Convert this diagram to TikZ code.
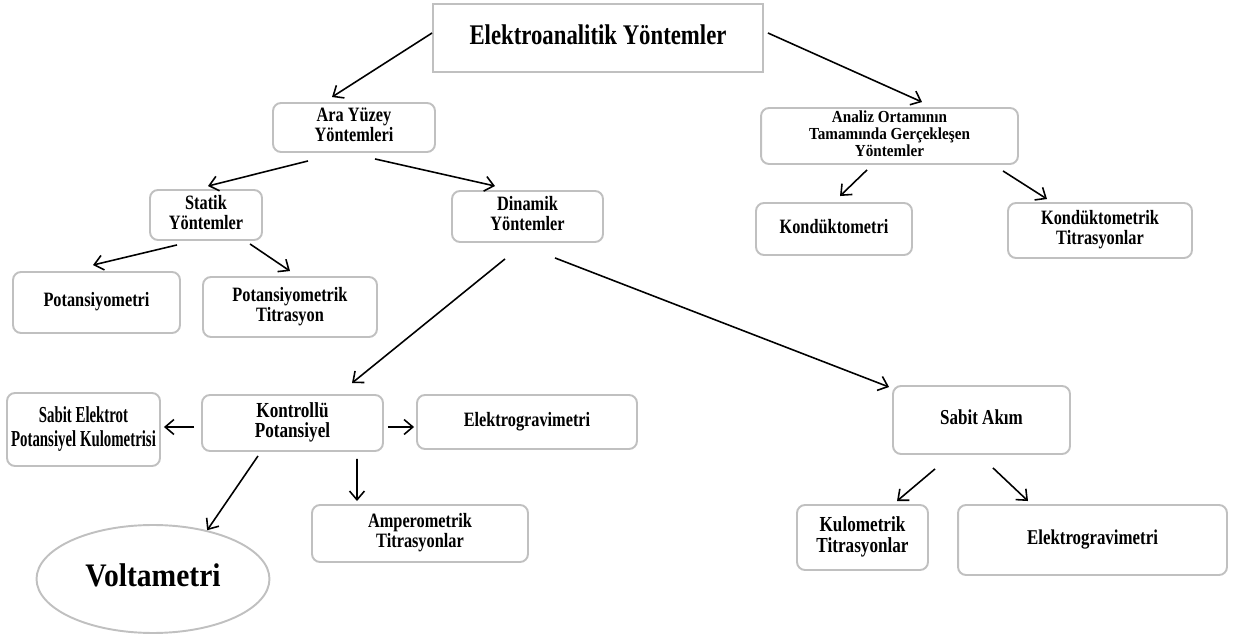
\documentclass[tikz,border=0pt]{standalone}
\usepackage{fontspec}
\setmainfont{Liberation Serif}
\usetikzlibrary{shapes.geometric,arrows.meta,calc}
\definecolor{boxgray}{RGB}{192,192,192}
% narrow, tall lettering as in the original
\newcommand{\lbl}[2][0.8]{\scalebox{#1}[1]{\begin{tabular}{@{}c@{}}#2\end{tabular}}}

\begin{document}
\begin{tikzpicture}[
	x=0.02cm, y=-0.02cm,
	box/.style={
		draw=boxgray, line width=1.1pt,
		rounded corners=0.16cm,
		align=center, inner sep=0pt,
		font=\bfseries\fontsize{11.6}{11.3}\selectfont
	},
	bigbox/.style={
		draw=boxgray, line width=1.1pt,
		align=center, inner sep=0pt,
		font=\bfseries\fontsize{16.2}{18}\selectfont
	},
	oval/.style={
		draw=boxgray, line width=1.1pt,
		ellipse, inner sep=0pt,
		font=\bfseries\fontsize{18.7}{20}\selectfont
	},
	arr/.style={
		-{Straight Barb[length=5pt,width=8.5pt]},
		line width=0.9pt
	}
	]
	\useasboundingbox (0,0) rectangle (1234,641);
	
	\node[bigbox, minimum width=6.6cm, minimum height=1.36cm] (top) at (598,38) {\raisebox{3pt}{\lbl{Elektroanalitik Yöntemler}}};
	
	\node[box, minimum width=3.24cm, minimum height=0.98cm] (ara) at (354,127.5) {\lbl{Ara Yüzey\\Yöntemleri}};
	\node[box, minimum width=5.14cm, minimum height=1.12cm, font=\bfseries\fontsize{9.6}{9.7}\selectfont] (analiz) at (889.5,136) {\raisebox{-2.5pt}{\lbl[0.9]{Analiz Ortamının\\Tamamında Gerçekleşen\\Yöntemler}}};
	
	\node[box, minimum width=2.24cm, minimum height=1.0cm]  (statik)  at (206,215)    {\lbl{Statik\\Yöntemler}};
	\node[box, minimum width=3.02cm, minimum height=1.02cm] (dinamik) at (527.5,216.5) {\lbl{Dinamik\\Yöntemler}};
	\node[box, minimum width=3.12cm, minimum height=1.04cm] (kond)    at (834,229)    {\lbl{Kondüktometri}};
	\node[box, minimum width=3.68cm, minimum height=1.10cm] (kondtit) at (1100,230.5) {\lbl{Kondüktometrik\\Titrasyonlar}};
	
	\node[box, minimum width=3.34cm, minimum height=1.22cm] (pot)    at (96.5,302.5) {\lbl{Potansiyometri}};
	\node[box, minimum width=3.48cm, minimum height=1.2cm]  (pottit) at (290,307)    {\lbl{Potansiyometrik\\Titrasyon}};
	
	\node[box, minimum width=3.06cm, minimum height=1.46cm, font=\bfseries\fontsize{13}{14}\selectfont] (sabitel) at (83.5,429.5)
		{\lbl[0.65]{Sabit Elektrot\\Potansiyel Kulometrisi}};
	\node[box, minimum width=3.62cm, minimum height=1.12cm, font=\bfseries\fontsize{12.2}{11}\selectfont] (kont) at (292.5,423) {\lbl{Kontrollü\\Potansiyel}};
	\node[box, minimum width=4.4cm,  minimum height=1.08cm] (elekl)   at (527,422)    {\lbl{Elektrogravimetri}};
	\node[box, minimum width=3.54cm, minimum height=1.36cm, font=\bfseries\fontsize{12.1}{12}\selectfont] (sabitak) at (981.5,420) {\lbl{Sabit Akım}};
	
	\node[box, minimum width=4.32cm, minimum height=1.14cm] (amper) at (420,533.5) {\lbl{Amperometrik\\Titrasyonlar}};
	\node[oval, minimum width=4.66cm, minimum height=2.16cm] (volt) at (153,579) {\lbl[0.9]{Voltametri}};
	\node[box, minimum width=2.62cm, minimum height=1.3cm, font=\bfseries\fontsize{12.2}{11.3}\selectfont] (kul) at (862.5,537.5) {\lbl{Kulometrik\\Titrasyonlar}};
	\node[box, minimum width=5.38cm, minimum height=1.4cm, font=\bfseries\fontsize{12}{12}\selectfont] (elekr) at (1092.5,540) {\lbl{Elektrogravimetri}};
	
	\draw[arr] ($(top.west)+(0,-5)$) -- ($(ara.north)+(-22,-5)$);
	\draw[arr] ($(top.east)+(4,-5)$) -- ($(analiz.north)+(32.5,-5)$);
	
	\draw[arr] ($(ara.south)+(-46,8)$) -- ($(statik.north)+(2,-3)$);
	\draw[arr] ($(ara.south)+(21,6)$)  -- ($(dinamik.north)+(-32.5,-4)$);
	
	\draw[arr] ($(statik.south)+(-29,4)$) -- ($(pot.north)+(-3.5,-6)$);
	\draw[arr] ($(statik.south)+(44,3)$)  -- ($(pottit.north)+(0,-5)$);
	
	\draw[arr] ($(analiz.south)+(-22.5,5)$) -- ($(kond.north)+(6,-6)$);
	\draw[arr] ($(analiz.south)+(113.5,6)$) -- ($(kondtit.north)+(-53,-3)$);
	
	\draw[arr] ($(dinamik.south)+(-22.5,16)$) -- ($(kont.north)+(59.5,-11)$);
	\draw[arr] ($(dinamik.south)+(27.5,15)$)  -- ($(sabitak.north west)+(-3,2)$);
	
	\draw[arr] ($(kont.west)+(-7,4)$)    -- ($(sabitel.east)+(3,-2.5)$);
	\draw[arr] ($(kont.east)+(4,4)$)     -- ($(elekl.west)+(-2,5)$);
	\draw[arr] ($(kont.south)+(64.5,7)$) -- ($(amper.north)+(-63,-3)$);
	\draw[arr] ($(kont.south)+(-34.5,4)$) -- (volt.42);
	
	\draw[arr] ($(sabitak.south)+(-46.5,14)$) -- ($(kul.north)+(34.5,-3)$);
	\draw[arr] ($(sabitak.south)+(11.5,13)$)  -- ($(elekr.north)+(-64.5,-3)$);
	
\end{tikzpicture}
\end{document}
